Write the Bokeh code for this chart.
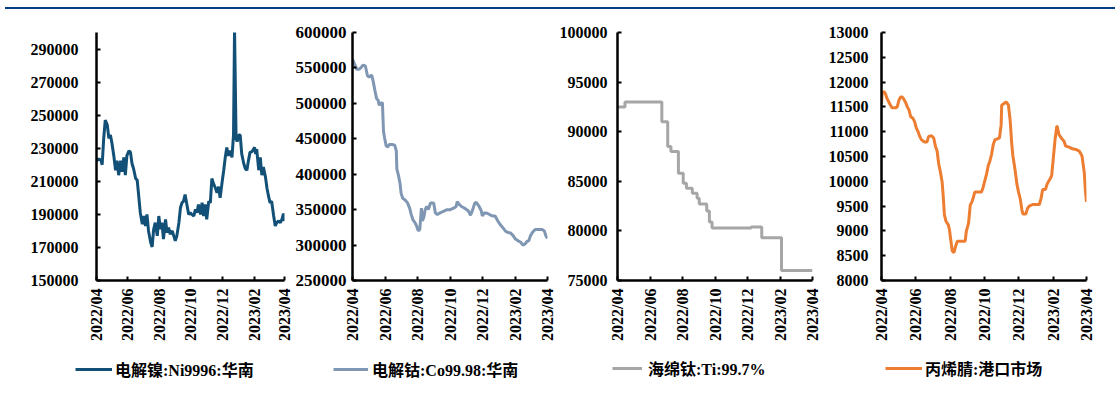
import pandas as pd
from bokeh.plotting import figure
from bokeh.layouts import row, column
from bokeh.models import (Range1d, FixedTicker, DatetimeTickFormatter, Legend,
                          LegendItem, Div, BasicTickFormatter)
from bokeh.embed import file_html
from bokeh.resources import INLINE

START = "2022-04-01"
x_tick_dates = ["2022-04-01", "2022-06-01", "2022-08-01", "2022-10-01",
                "2022-12-01", "2023-02-01", "2023-04-01"]

# ---- 电解镍:Ni9996:华南 ----
ni_days = [0,5,9,11,14,17,21,24,27,30,34,37,40,43,47,50,53,56,59,63,66,69,72,76,79,82,85,89,92,95,
           98,101,105,108,111,114,118,121,124,127,130,134,137,140,143,147,150,153,156,160,163,166,169,
           172,176,179,182,185,189,192,195,198,202,205,208,211,214,218,221,224,227,231,234,237,240,244,
           247,250,253,256,260,263,266,268,271,273,276,279,282,286,289,292,295,298,302,305,307,309,311,
           315,318,321,324,328,331,334,337,340,344,347,350,353,357,360,363,365]
ni_vals = [222500,223500,222500,220000,236000,247000,244000,236000,238000,233000,
           224500,216700,222500,213700,222500,215700,224500,213700,225500,228500,
           227500,220600,217600,211700,210700,201000,191000,184000,189000,183000,
           190000,180000,173300,170300,181000,185000,177000,189000,181000,185000,
           175000,187000,179000,182000,178000,180000,177000,174000,177000,185000,
           194000,197000,198000,202000,195000,190000,191000,190000,189000,193000,
           191000,196000,190000,197000,189000,196000,187000,198000,197000,211700,
           208700,205800,203000,206800,200000,209800,216700,224500,230500,225500,
           228500,224500,238000,302000,236000,234000,238000,238000,226500,220600,
           217600,216700,222500,227500,228000,229500,230500,226500,229500,216700,
           224500,213700,218600,212700,205800,201000,197000,198000,189000,183000,
           185000,186000,185000,187000,190500,186000]

# ---- 电解钴:Co99.98:华南 ----
co_days = [0,4,8,12,16,20,24,28,31,36,39,42,45,48,50,53,56,58,60,63,66,69,74,79,82,83,86,89,91,94,
           98,103,107,110,113,117,120,123,126,129,131,134,136,139,142,146,149,152,155,159,164,171,177,
           183,189,194,196,200,204,210,217,221,225,229,232,237,241,243,247,253,259,263,267,272,276,281,
           286,290,296,301,305,310,315,319,323,327,330,333,337,342,348,355,359,362,365]
co_vals = [562000,555000,548000,548000,550500,554000,553000,539000,537000,540000,
           530000,518000,507000,504500,497500,500000,501000,460500,451500,440000,
           438500,442000,442000,441000,433000,407500,398500,387000,373000,366000,
           364000,359500,352000,343000,336000,331500,327000,320000,322000,352000,
           334000,341000,350000,354500,350000,359500,359500,359500,345500,343000,
           345500,348000,350000,350000,352000,354500,361500,357000,354500,352000,
           348000,342000,350000,359500,360000,354500,348500,341000,345500,344500,
           342000,341000,341000,334000,329500,325000,320000,318000,317000,313000,
           308500,306000,304000,300000,301500,305500,306000,313000,318000,322000,
           322000,322000,320000,313000,309500]

# ---- 海绵钛:Ti:99.7% ----
ti_days = [0,14,83,94,100,114,123,129,140,149,153,167,172,177,250,270,307,365]
ti_vals = [92500,93000,91000,88500,88000,85800,84800,84300,83800,83300,82700,82000,
           80900,80300,80400,79300,76000,76000]

# ---- 丙烯腈:港口市场 ----
an_days = [0,1,4,7,10,13,16,19,25,28,31,34,37,40,43,46,49,52,56,59,62,65,68,71,76,81,84,89,93,96,
           99,102,105,108,110,112,115,119,121,124,126,129,132,135,141,149,151,155,158,161,163,166,174,
           178,181,184,187,190,193,196,199,202,206,210,213,214,218,222,226,229,232,234,238,241,244,247,
           250,252,257,260,263,269,275,281,284,287,292,295,300,303,306,309,312,313,316,321,325,328,334,
           340,346,352,357,361,363,365]
an_vals = [11567,11765,11810,11765,11666,11600,11534,11481,11481,11500,
           11633,11700,11700,11650,11587,11500,11435,11303,11270,11203,
           11071,11005,10906,10840,10794,10794,10906,10920,10873,10708,
           10609,10345,10180,9981,9684,9321,9189,9123,9024,8760,
           8594,8561,8693,8793,8793,8793,8991,9156,9519,9585,
           9651,9783,9783,9783,9882,10015,10147,10312,10411,10543,
           10741,10840,10853,10873,11137,11534,11567,11600,11534,11236,
           10741,10510,10213,9948,9783,9651,9420,9341,9341,9453,
           9500,9532,9532,9532,9651,9836,9836,9948,10047,10114,
           10477,10840,11104,11104,10939,10860,10807,10708,10688,10655,
           10642,10609,10510,10180,9816,9585]

SERIF = "Liberation Serif, Noto Sans CJK SC"
start = pd.Timestamp(START)
x_end = pd.Timestamp(x_tick_dates[-1])
x_ticks_ms = [pd.Timestamp(d).timestamp() * 1000 for d in x_tick_dates]


def to_dates(days):
    return [start + pd.Timedelta(days=d) for d in days]


def draw(p, days, vals, color, step):
    xs = to_dates(days)
    if step:
        return p.step(xs, vals, mode="after", line_color=color, line_width=3)
    return p.line(xs, vals, line_color=color, line_width=3)


def panel(width, height, bl, br, bt, bb, yr, ystep, ystand, yfont,
          days, vals, color, step=False):
    p = figure(width=width, height=height, output_backend="svg", toolbar_location=None,
               x_axis_type="datetime", x_range=Range1d(start, x_end),
               y_range=Range1d(yr[0], yr[1]),
               min_border_left=bl, min_border_right=br, min_border_top=bt, min_border_bottom=bb)
    p.outline_line_color = None
    p.grid.visible = False
    draw(p, days, vals, color, step)

    xa = p.xaxis[0]
    xa.ticker = FixedTicker(ticks=x_ticks_ms)
    fmt = "%Y/%m"
    xa.formatter = DatetimeTickFormatter(days=fmt, months=fmt, years=fmt, hours=fmt,
                                         hourmin=fmt, minutes=fmt, minsec=fmt,
                                         seconds=fmt, milliseconds=fmt, microseconds=fmt)
    xa.major_label_orientation = 3.14159265 / 2
    xa.major_label_standoff = 8
    ya = p.yaxis[0]
    ya.ticker = FixedTicker(ticks=list(range(yr[0], yr[1] + 1, ystep)))
    ya.formatter = BasicTickFormatter(use_scientific=False)
    ya.major_label_standoff = ystand
    for ax, fs in ((xa, "16px"), (ya, yfont)):
        ax.axis_line_width = 2.5
        ax.axis_line_color = "black"
        ax.major_tick_in = 4
        ax.major_tick_out = 0
        ax.major_tick_line_width = 2
        ax.minor_tick_line_color = None
        ax.major_label_text_font = SERIF
        ax.major_label_text_font_style = "bold"
        ax.major_label_text_font_size = fs
        ax.major_label_text_color = "black"
    return p


H = 339
p1 = panel(292, H, 96, 8, 22, 64, (150000, 300000), 20000, 18, "16px",
           ni_days, ni_vals, "#125078")
p1.yaxis[0].ticker = FixedTicker(ticks=list(range(150000, 290001, 20000)))
p2 = panel(264, H, 57, 9, 23, 64, (250000, 600000), 50000, 6, "17px",
           co_days, co_vals, "#8097b3")
p3 = panel(266, H, 59, 10, 21, 65, (75000, 100000), 5000, 10, "16px",
           ti_days, ti_vals, "#a6a6a6", step=True)
p4 = panel(296, H, 59, 32, 19, 68, (8000, 13000), 500, 13, "16px",
           an_days, an_vals, "#ed7d31")

# legend strip: the same series drawn outside its visible range, used only for legend keys
LH = 50
lg = figure(width=1118, height=LH, output_backend="svg", toolbar_location=None,
            x_axis_type="datetime", x_range=Range1d(start, x_end), y_range=Range1d(0, 1),
            x_axis_location=None, y_axis_location=None,
            min_border_left=0, min_border_right=0, min_border_top=0, min_border_bottom=0)
lg.outline_line_color = None
lg.grid.visible = False
legend_specs = [
    ("电解镍:Ni9996:华南", ni_days, ni_vals, "#125078", False, 75, 17, 37, 3),
    ("电解钴:Co99.98:华南", co_days, co_vals, "#8097b3", False, 333, 17, 35, 4),
    ("海绵钛:Ti:99.7%", ti_days, ti_vals, "#a6a6a6", True, 612, 18, 30, 6),
    ("丙烯腈:港口市场", an_days, an_vals, "#ed7d31", False, 885, 18, 37, 3),
]
for label, d, v, c, st, lx, ly, gw, ls in legend_specs:
    r = draw(lg, d, v, c, st)
    leg = Legend(items=[LegendItem(label=label, renderers=[r])], location=(lx, ly),
                 padding=0, margin=0, spacing=0, glyph_width=gw, glyph_height=16,
                 label_height=16, label_standoff=ls, border_line_color=None,
                 background_fill_alpha=0, label_text_font=SERIF,
                 label_text_font_style="bold", label_text_font_size="16px",
                 label_text_color="black")
    lg.add_layout(leg)

top_line = Div(text="", width=1110, height=2, margin=(7, 0, 0, 5),
               styles={"background-color": "#063d84"})
layout = column(top_line, row(p1, p2, p3, p4, spacing=0), lg, spacing=0)

open("out.html", "w").write(file_html(layout, INLINE))
